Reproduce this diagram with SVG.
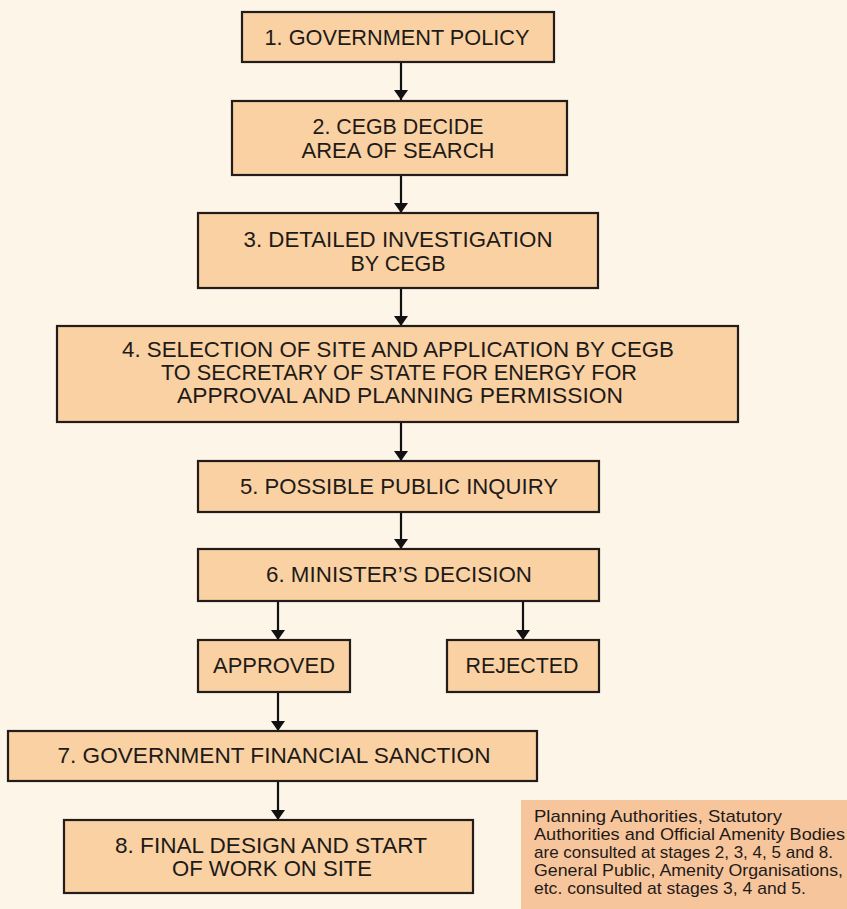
<svg xmlns="http://www.w3.org/2000/svg" width="847" height="909" viewBox="0 0 847 909">
<style>
.box{fill:#f9d1a3;stroke:#231c1a;stroke-width:2.2}
.t{font-family:"Liberation Sans",Arial,sans-serif;font-size:22px;fill:#1e1a18;text-anchor:middle}
.t4{font-size:21.5px}
.n{font-family:"Liberation Sans",Arial,sans-serif;font-size:17px;fill:#1e1a18}
.c{stroke:#111;stroke-width:2.2;fill:none}
</style>
<defs>
<marker id="ah" viewBox="0 0 10 14" refX="10" refY="7" markerWidth="10" markerHeight="14" markerUnits="userSpaceOnUse" orient="auto">
<path d="M0,0 L10,7 L0,14 Z" fill="#111"/>
</marker>
</defs>
<rect width="847" height="909" fill="#fcf5e8"/>
<g id="connectors">
<line class="c" x1="401" y1="62" x2="401" y2="100" marker-end="url(#ah)"/>
<line class="c" x1="401" y1="175" x2="401" y2="213" marker-end="url(#ah)"/>
<line class="c" x1="401" y1="288" x2="401" y2="326" marker-end="url(#ah)"/>
<line class="c" x1="401" y1="422" x2="401" y2="461" marker-end="url(#ah)"/>
<line class="c" x1="401" y1="512" x2="401" y2="549" marker-end="url(#ah)"/>
<line class="c" x1="278" y1="601" x2="278" y2="640" marker-end="url(#ah)"/>
<line class="c" x1="523" y1="601" x2="523" y2="640" marker-end="url(#ah)"/>
<line class="c" x1="278" y1="692" x2="278" y2="731" marker-end="url(#ah)"/>
<line class="c" x1="278" y1="781" x2="278" y2="820" marker-end="url(#ah)"/>
</g>
<g id="n1"><rect class="box" x="242" y="12" width="312" height="50"/><text class="t" x="397" y="45" textLength="265" lengthAdjust="spacingAndGlyphs">1. GOVERNMENT POLICY</text></g>
<g id="n2"><rect class="box" x="232" y="101" width="335" height="74"/><text class="t" x="398" y="134" textLength="171" lengthAdjust="spacingAndGlyphs">2. CEGB DECIDE</text><text class="t" x="398" y="158" textLength="193" lengthAdjust="spacingAndGlyphs">AREA OF SEARCH</text></g>
<g id="n3"><rect class="box" x="198" y="213" width="400" height="75"/><text class="t" x="398" y="247" textLength="309" lengthAdjust="spacingAndGlyphs">3. DETAILED INVESTIGATION</text><text class="t" x="398" y="271" textLength="95" lengthAdjust="spacingAndGlyphs">BY CEGB</text></g>
<g id="n4"><rect class="box" x="57" y="326" width="681" height="96"/>
<text class="t t4" x="398" y="357" textLength="552" lengthAdjust="spacingAndGlyphs">4. SELECTION OF SITE AND APPLICATION BY CEGB</text>
<text class="t t4" x="399" y="380" textLength="476" lengthAdjust="spacingAndGlyphs">TO SECRETARY OF STATE FOR ENERGY FOR</text>
<text class="t t4" x="400" y="403" textLength="446" lengthAdjust="spacingAndGlyphs">APPROVAL AND PLANNING PERMISSION</text></g>
<g id="n5"><rect class="box" x="198" y="461" width="401" height="51"/><text class="t" x="399" y="494" textLength="318" lengthAdjust="spacingAndGlyphs">5. POSSIBLE PUBLIC INQUIRY</text></g>
<g id="n6"><rect class="box" x="198" y="549" width="401" height="52"/><text class="t" x="399" y="582" textLength="266" lengthAdjust="spacingAndGlyphs">6. MINISTER’S DECISION</text></g>
<g id="approved"><rect class="box" x="198" y="640" width="152" height="52"/><text class="t" x="274" y="673" textLength="122" lengthAdjust="spacingAndGlyphs">APPROVED</text></g>
<g id="rejected"><rect class="box" x="447" y="640" width="152" height="52"/><text class="t" x="522" y="673" textLength="113" lengthAdjust="spacingAndGlyphs">REJECTED</text></g>
<g id="n7"><rect class="box" x="8" y="731" width="529" height="50"/><text class="t" x="274" y="763" textLength="433" lengthAdjust="spacingAndGlyphs">7. GOVERNMENT FINANCIAL SANCTION</text></g>
<g id="n8"><rect class="box" x="64" y="820" width="409" height="73"/><text class="t" x="271" y="853" textLength="312" lengthAdjust="spacingAndGlyphs">8. FINAL DESIGN AND START</text><text class="t" x="272" y="876" textLength="200" lengthAdjust="spacingAndGlyphs">OF WORK ON SITE</text></g>
<g id="note"><rect x="521" y="800" width="326" height="109" fill="#f7c59b"/>
<text class="n" x="534" y="822" textLength="248" lengthAdjust="spacingAndGlyphs">Planning Authorities, Statutory</text>
<text class="n" x="534" y="840" textLength="311" lengthAdjust="spacingAndGlyphs">Authorities and Official Amenity Bodies</text>
<text class="n" x="534" y="858" textLength="299" lengthAdjust="spacingAndGlyphs">are consulted at stages 2, 3, 4, 5 and 8.</text>
<text class="n" x="534" y="876" textLength="309" lengthAdjust="spacingAndGlyphs">General Public, Amenity Organisations,</text>
<text class="n" x="534" y="894" textLength="272" lengthAdjust="spacingAndGlyphs">etc. consulted at stages 3, 4 and 5.</text>
</g>
</svg>
